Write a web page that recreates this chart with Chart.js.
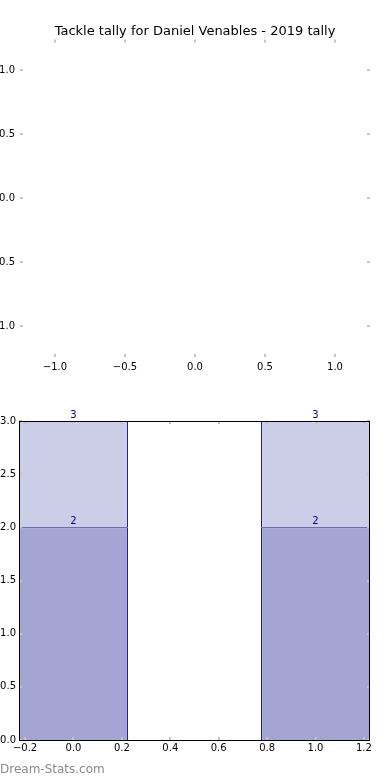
<!DOCTYPE html>
<html>
<head>
<meta charset="utf-8">
<script src="https://cdn.jsdelivr.net/npm/chart.js@4"></script>
<style>
  html, body { margin: 0; padding: 0; background: #fff; overflow: hidden; }
  #wrap { position: relative; width: 390px; height: 780px; }
  #top { position: absolute; left: 0; top: 0; }
  #bottom { position: absolute; left: 0; top: 380px; }
  #mark { position: absolute; left: 0; top: 762px; font: 12px "DejaVu Sans"; color: #8a8a8a; }
</style>
</head>
<body>
<div id="wrap">
  <canvas id="top" width="390" height="380"></canvas>
  <canvas id="bottom" width="390" height="400"></canvas>
  <div id="mark">Dream-Stats.com</div>
</div>
<script>
const titleText = "Tackle tally for Daniel Venables - 2019 tally";

// empty upper panel
const topXTicks = [-1, -0.5, 0, 0.5, 1];
const topYTicks = [-1, -0.5, 0, 0.5, 1];

// bar panel
const barX = [0, 1];
const lowerValues = [2, 2];
const upperValues = [1, 1];
const barXTicks = [-0.2, 0, 0.2, 0.4, 0.6, 0.8, 1.0, 1.2];
const barYTicks = [0, 0.5, 1, 1.5, 2, 2.5, 3];
const barWidth = 0.45; // in x units

Chart.defaults.font.family = "DejaVu Sans";
Chart.defaults.color = "#000";
Chart.defaults.animation = false;

const fmt = v => (v < 0 ? "\u2212" : "") + Math.abs(v).toFixed(1);
const setTicks = list => s => { s.ticks = list.map(v => ({ value: v })); };
const noGrid = { display: false, drawTicks: false, tickLength: 0 };

// small grey inward ticks on all four sides, optional black frame
function tickMarks(frame) {
  return {
    id: "tickMarks",
    afterDatasetsDraw(chart) {
      const { ctx, chartArea: a, scales } = chart;
      ctx.save();
      ctx.fillStyle = "#c4c4c4";
      scales.x.ticks.forEach(t => {
        const px = Math.round(scales.x.getPixelForValue(t.value));
        ctx.fillRect(px - 1, a.top, 2, 3);
        ctx.fillRect(px - 1, a.bottom - 3, 2, 3);
      });
      scales.y.ticks.forEach(t => {
        const py = Math.round(scales.y.getPixelForValue(t.value));
        ctx.fillRect(a.left, py - 1, 3, 2);
        ctx.fillRect(a.right - 3, py - 1, 3, 2);
      });
      if (frame) {
        ctx.strokeStyle = "#000";
        ctx.lineWidth = 1;
        ctx.strokeRect(Math.round(a.left) + 0.5, Math.round(a.top) + 0.5,
          Math.round(a.right - a.left) - 1, Math.round(a.bottom - a.top));
      }
      ctx.restore();
    }
  };
}

new Chart(document.getElementById("top"), {
  type: "scatter",
  data: { datasets: [{ data: [] }] },
  options: {
    responsive: false,
    layout: { padding: 0 },
    plugins: {
      legend: { display: false },
      tooltip: { enabled: false },
      title: {
        display: true, text: titleText, color: "#000",
        font: { size: 13, weight: "normal" },
        padding: { top: 24, bottom: 0 }
      }
    },
    scales: {
      x: {
        min: -1.25, max: 1.25,
        afterBuildTicks: setTicks(topXTicks),
        afterFit: s => { s.height = 23; },
        grid: noGrid, border: { display: false },
        ticks: { font: { size: 10 }, padding: 4, callback: v => fmt(v) }
      },
      y: {
        min: -1.24, max: 1.24,
        afterBuildTicks: setTicks(topYTicks),
        afterFit: s => { s.width = 20; },
        grid: noGrid, border: { display: false },
        ticks: { font: { size: 10 }, padding: 5, callback: v => fmt(v) }
      },
      // blank right margin so the title stays centred on the canvas
      yRight: {
        position: "right", min: -1.24, max: 1.24,
        afterFit: s => { s.width = 20; },
        grid: noGrid, border: { display: false },
        ticks: { display: false }
      }
    }
  },
  plugins: [tickMarks(false)]
});

const barLabels = {
  id: "barLabels",
  afterDatasetsDraw(chart) {
    const { ctx } = chart;
    ctx.save();
    ctx.fillStyle = "#000080";
    ctx.font = "10px 'DejaVu Sans'";
    ctx.textAlign = "center";
    ctx.textBaseline = "bottom";
    chart.data.datasets.forEach((ds, di) => {
      chart.getDatasetMeta(di).data.forEach((bar, i) => {
        const total = lowerValues[i] + (di === 1 ? upperValues[i] : 0);
        ctx.fillText(String(total), bar.x, bar.y - 1);
      });
    });
    ctx.restore();
  }
};

// chart.js sizes linear bars from the smallest gap (here the tick step)
const tickStep = barXTicks[1] - barXTicks[0];

new Chart(document.getElementById("bottom"), {
  type: "bar",
  data: {
    datasets: [
      {
        data: barX.map((x, i) => ({ x, y: lowerValues[i] })),
        backgroundColor: "#a4a5d3", borderColor: "#000080",
        borderWidth: 1, borderSkipped: "start"
      },
      {
        data: barX.map((x, i) => ({ x, y: upperValues[i] })),
        backgroundColor: "#cccde6", borderColor: "#000080",
        borderWidth: 1, borderSkipped: "start"
      }
    ]
  },
  options: {
    responsive: false,
    layout: { padding: { left: 0, right: 20, top: 41, bottom: 0 } },
    datasets: { bar: { barPercentage: barWidth / tickStep, categoryPercentage: 1 } },
    plugins: { legend: { display: false }, tooltip: { enabled: false } },
    scales: {
      x: {
        type: "linear", stacked: true, offset: false, min: -0.225, max: 1.225,
        afterBuildTicks: setTicks(barXTicks),
        afterFit: s => { s.height = 40; },
        grid: noGrid, border: { display: false },
        ticks: { font: { size: 10 }, padding: 2, callback: v => fmt(v) }
      },
      y: {
        stacked: true, min: 0, max: 3,
        afterBuildTicks: setTicks(barYTicks),
        afterFit: s => { s.width = 19; },
        grid: noGrid, border: { display: false },
        ticks: { font: { size: 10 }, padding: 3, callback: v => fmt(v) }
      }
    }
  },
  plugins: [barLabels, tickMarks(true)]
});
</script>
</body>
</html>
